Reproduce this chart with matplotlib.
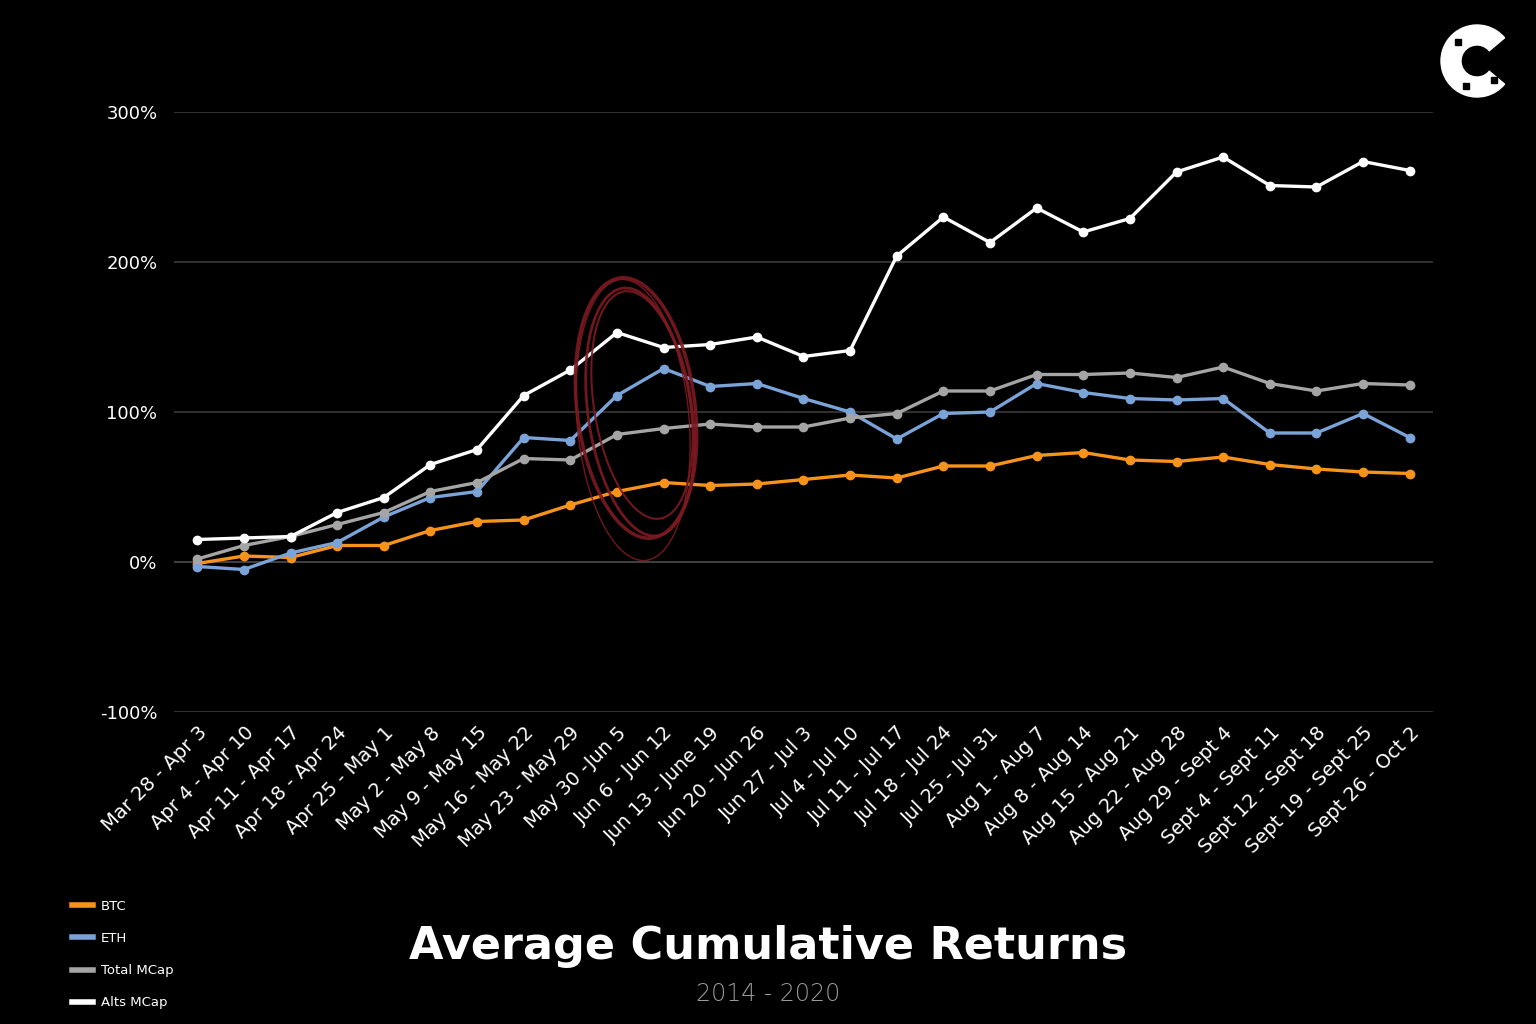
import numpy as np
import matplotlib.pyplot as plt
from matplotlib.patches import Ellipse, Wedge, Rectangle
from matplotlib.lines import Line2D

weeks = ["Mar 28 - Apr 3", "Apr 4 - Apr 10", "Apr 11 - Apr 17", "Apr 18 - Apr 24",
         "Apr 25 - May 1", "May 2 - May 8", "May 9 - May 15", "May 16 - May 22",
         "May 23 - May 29", "May 30 -Jun 5", "Jun 6 - Jun 12", "Jun 13 - June 19",
         "Jun 20 - Jun 26", "Jun 27 - Jul 3", "Jul 4 - Jul 10", "Jul 11 - Jul 17",
         "Jul 18 - Jul 24", "Jul 25 - Jul 31", "Aug 1 - Aug 7", "Aug 8 - Aug 14",
         "Aug 15 - Aug 21", "Aug 22 - Aug 28", "Aug 29 - Sept 4", "Sept 4 - Sept 11",
         "Sept 12 - Sept 18", "Sept 19 - Sept 25", "Sept 26 - Oct 2"]

btc = [-1, 4, 3, 11, 11, 21, 27, 28, 38, 47, 53, 51, 52, 55, 58, 56, 64, 64,
       71, 73, 68, 67, 70, 65, 62, 60, 59]
eth = [-3, -5, 6, 13, 30, 43, 47, 83, 81, 111, 129, 117, 119, 109, 100, 82, 99, 100,
       119, 113, 109, 108, 109, 86, 86, 99, 83]
total_mcap = [2, 11, 17, 25, 33, 47, 53, 69, 68, 85, 89, 92, 90, 90, 96, 99, 114, 114,
              125, 125, 126, 123, 130, 119, 114, 119, 118]
alts_mcap = [15, 16, 17, 33, 43, 65, 75, 111, 128, 153, 143, 145, 150, 137, 141, 204, 230, 213,
             236, 220, 229, 260, 270, 251, 250, 267, 261]

series = [("BTC", btc, "#f7931a"),
          ("ETH", eth, "#7aa3d8"),
          ("Total MCap", total_mcap, "#a5a5a5"),
          ("Alts MCap", alts_mcap, "#ffffff")]

plt.rcParams['font.family'] = ['DejaVu Sans']

fig = plt.figure(figsize=(15.36, 10.24), dpi=100, facecolor="black")
ax = fig.add_axes([174/1536, 1 - 712/1024, (1433 - 174)/1536, 600/1024])
ax.set_facecolor("black")

x = np.arange(len(weeks))
for name, vals, col in series:
    ax.plot(x, vals, "-o", color=col, lw=2.4, ms=6, label=name)

ax.set_xlim(-0.5, len(weeks) - 0.5)
ax.set_ylim(-100, 300)
ax.set_yticks([-100, 0, 100, 200, 300])
ax.set_yticklabels(["-100%", "0%", "100%", "200%", "300%"])
ax.yaxis.grid(True, color="#3a3a3a", lw=1.2)
ax.axhline(0, color="#6a6a6a", lw=1.2, zorder=0.5)
ax.set_axisbelow(True)
ax.set_xticks(x)
ax.set_xticklabels(weeks, rotation=45, ha="right", va="top", rotation_mode="anchor")
ax.tick_params(axis="both", length=0, colors="white", labelsize=13)
ax.tick_params(axis="x", labelsize=14, pad=8)
ax.tick_params(axis="y", pad=12)
for s in ax.spines.values():
    s.set_visible(False)

handles = [Line2D([], [], color=col, lw=4) for _, _, col in series]
fig.legend(handles, [n for n, _, _ in series], loc="upper left",
           bbox_to_anchor=(60/1536, 1 - 888/1024), frameon=False,
           fontsize=9.5, labelcolor="white", handlelength=1.6, handletextpad=0.6,
           labelspacing=1.45)

fig.text(0.5, 1 - 947/1024, "Average Cumulative Returns", ha="center", va="center",
         color="white", fontsize=32, fontweight="bold")
fig.text(0.5, 1 - 994/1024, "2014 - 2020", ha="center", va="center",
         color="#9a9a9a", fontsize=17, fontweight="light")

# overlay in pixel coords for the annotation circle and logo
ov = fig.add_axes([0, 0, 1, 1])
ov.set_xlim(0, 1536)
ov.set_ylim(1024, 0)
ov.axis("off")
ov.patch.set_alpha(0)
for cx, cy, w, h, ang, lw in [(636, 408, 118, 262, -7, 2.5),
                              (640, 412, 104, 250, -8, 2.0),
                              (633, 420, 112, 282, -5, 1.0),
                              (642, 405, 96, 230, -9, 1.5)]:
    ov.add_patch(Ellipse((cx, cy), w, h, angle=ang, fill=False,
                         ec="#7d1a22", lw=lw, alpha=0.9))

ov.add_patch(Wedge((1477, 61), 36, 40, 320, width=20, color="white"))
for bx, by in [(1458, 42), (1466, 86), (1494, 80)]:
    ov.add_patch(Rectangle((bx - 3, by - 3), 6, 6, color="black"))

fig.savefig("out.png", dpi=100, facecolor="black")
